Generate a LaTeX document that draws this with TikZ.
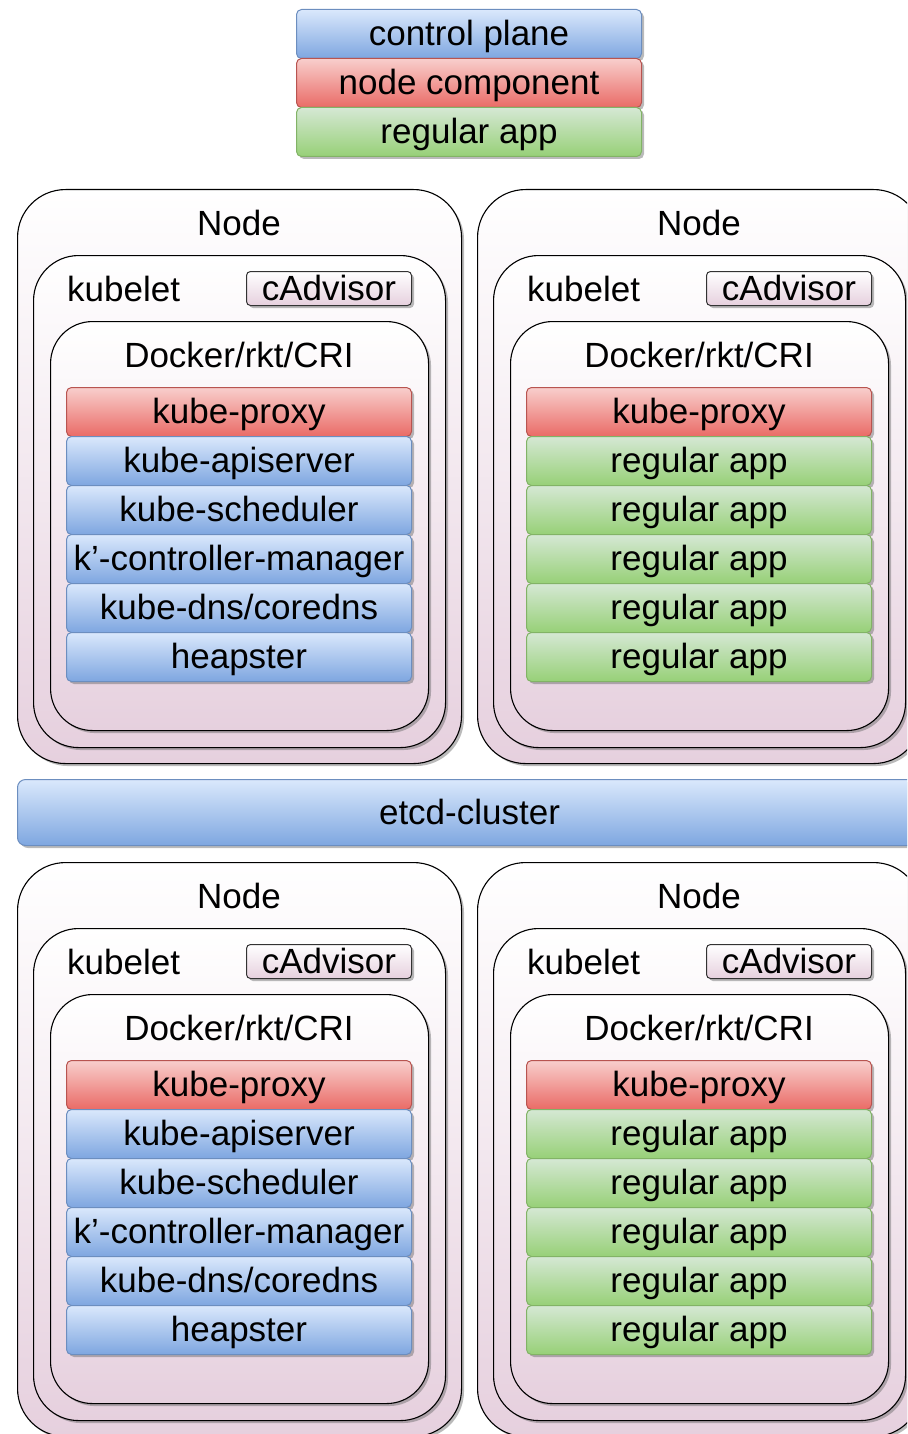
\documentclass[tikz,border=0pt]{standalone}
\usepackage{fontspec}
\setmainfont{Liberation Sans}
\usetikzlibrary{shadows}
\tikzset{>=latex}
\definecolor{cptop}{HTML}{DAE8FC}
\definecolor{cpbot}{HTML}{7EA6E0}
\definecolor{cpline}{HTML}{6C8EBF}
\definecolor{nctop}{HTML}{F8CECC}
\definecolor{ncbot}{HTML}{EA6B66}
\definecolor{ncline}{HTML}{B85450}
\definecolor{apptop}{HTML}{D5E8D4}
\definecolor{appbot}{HTML}{97D077}
\definecolor{appline}{HTML}{82B366}
\definecolor{nodepink}{HTML}{E6D0DE}
\tikzset{
  softshadow/.style={drop shadow={shadow xshift=2.5pt, shadow yshift=-2.5pt, opacity=0.45, fill=black!60}},
  nodebox/.style={draw=black, line width=1.1pt, rounded corners=48pt, top color=white, bottom color=nodepink, softshadow, anchor=north west, inner sep=0pt},
  comp/.style={line width=1pt, rounded corners=5pt, minimum width=345pt, minimum height=49pt, inner sep=0pt, text height=30pt, text depth=7pt, softshadow, anchor=north west},
  cp/.style={comp, draw=cpline, top color=cptop, bottom color=cpbot},
  nc/.style={comp, draw=ncline, top color=nctop, bottom color=ncbot},
  app/.style={comp, draw=appline, top color=apptop, bottom color=appbot},
  advisor/.style={draw=black!80, line width=1pt, rounded corners=4pt, top color=white, bottom color=nodepink, softshadow, anchor=north west, inner sep=0pt, minimum width=165pt, minimum height=34pt, text height=28pt, text depth=4pt},
}
% one Node: name, x, y, list of style/text
\newcommand{\kubenode}[4]{%
  \begin{scope}[shift={(#2,#3)}]
    \node[nodebox, minimum width=444pt, minimum height=574pt] (#1) at (0,0) {};
    \node (#1-title) at (222,34) {Node};
    \node[nodebox, rounded corners=45pt, minimum width=412pt, minimum height=492pt] (#1-kubelet) at (16,66) {};
    \node[anchor=west, inner sep=0pt] (#1-kl) at (50,100) {kubelet};
    \node[advisor] (#1-cadv) at (229,82) {cAdvisor};
    \node[nodebox, rounded corners=42pt, minimum width=378pt, minimum height=409pt] (#1-docker) at (33,132) {};
    \node (#1-cri) at (222,166) {Docker/rkt/CRI};
    \foreach \s/\t [count=\i from 0] in {#4}
      \node[\s] (#1-c\i) at (49,198+49*\i) {\t};
  \end{scope}}

\begin{document}
\begin{tikzpicture}[x=1pt, y=-1pt, font=\fontsize{35}{42}\selectfont]
  \path[use as bounding box, clip] (0,0) rectangle (907,1434);
  % legend
  \node[cp] (lg-cp) at (296,9) {control plane};
  \node[nc] (lg-nc) at (296,58) {node component};
  \node[app] (lg-app) at (296,107) {regular app};
  % upper nodes
  \kubenode{n1}{17}{189}{nc/kube-proxy, cp/kube-apiserver, cp/kube-scheduler, cp/k'-controller-manager, cp/kube-dns\slash coredns, cp/heapster}
  \kubenode{n2}{477}{189}{nc/kube-proxy, app/regular app, app/regular app, app/regular app, app/regular app, app/regular app}
  % etcd
  \node[cp, rounded corners=8pt, minimum width=904pt, minimum height=66pt] (etcd) at (17,779) {etcd-cluster};
  % lower nodes
  \kubenode{n3}{17}{862}{nc/kube-proxy, cp/kube-apiserver, cp/kube-scheduler, cp/k'-controller-manager, cp/kube-dns\slash coredns, cp/heapster}
  \kubenode{n4}{477}{862}{nc/kube-proxy, app/regular app, app/regular app, app/regular app, app/regular app, app/regular app}
\end{tikzpicture}
\end{document}
